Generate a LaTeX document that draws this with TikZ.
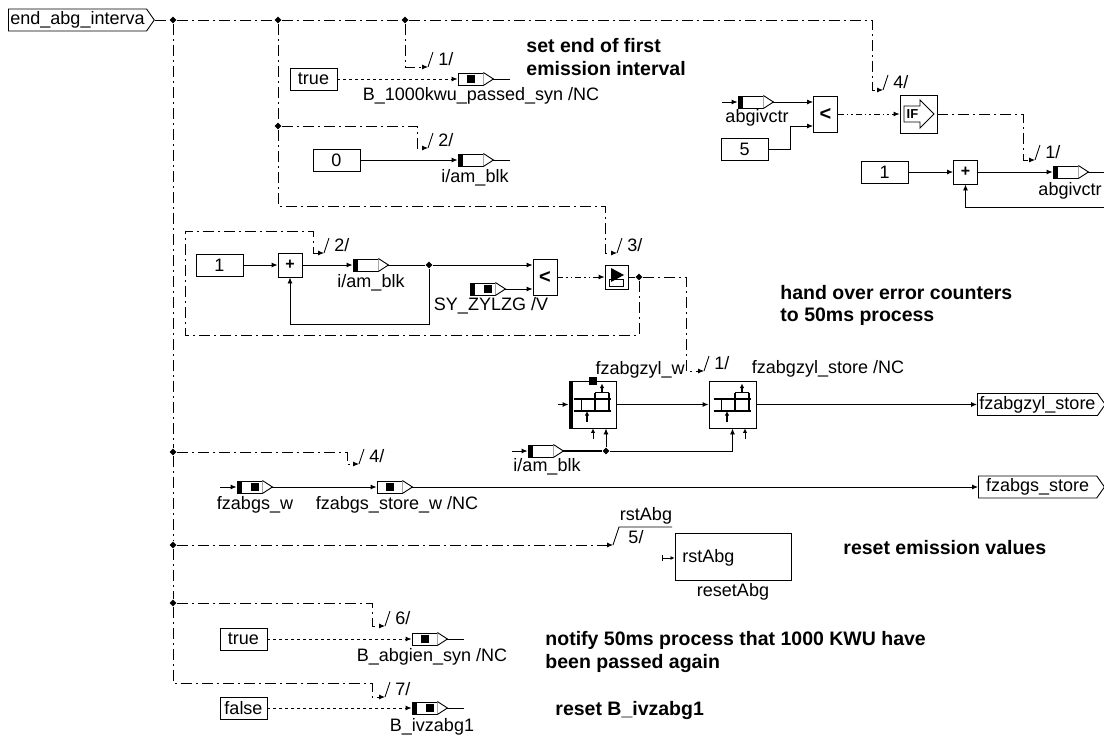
\documentclass[tikz,border=0pt]{standalone}
\usepackage{fontspec}
\setmainfont{Liberation Sans}
\usetikzlibrary{arrows.meta,shapes.geometric,shapes.symbols}
\tikzset{
  arr/.style={-{Latex[length=6pt,width=5pt]}},
  arrs/.style={-{Latex[length=4.5pt,width=4.5pt]}},
  dd/.style={dash pattern=on 11pt off 4pt on 2pt off 4pt},
  ddd/.style={dash pattern=on 6pt off 3pt on 1.5pt off 3pt on 1.5pt off 3pt},
  dotl/.style={dash pattern=on 3pt off 3pt},
  lbl/.style={font=\fontsize{18}{21}\selectfont, inner sep=0pt},
  note/.style={font=\fontsize{19.5}{23}\selectfont\bfseries, inner sep=0pt, anchor=base west},
  const/.style={draw, fill=white, minimum width=47pt, minimum height=22pt, inner sep=0pt, font=\fontsize{18}{21}\selectfont},
  addop/.style={draw, fill=white, minimum width=24pt, minimum height=24pt, inner sep=0pt, font=\fontsize{16}{18}\selectfont\bfseries},
  cmpop/.style={draw, fill=white, minimum width=24pt, minimum height=36pt, inner sep=0pt, font=\fontsize{20}{22}\selectfont\bfseries},
  var/.style={draw, fill=white, minimum width=25pt, minimum height=12pt, inner sep=0pt},
  varbar/.style={var, path picture={\fill[black] (path picture bounding box.south west) rectangle ([xshift=5pt]path picture bounding box.north west);}},
  varsq/.style={var, path picture={\fill[black] ([xshift=-3.5pt,yshift=-4pt]path picture bounding box.center) rectangle ([xshift=4pt,yshift=4pt]path picture bounding box.center);}},
  varbarsq/.style={var, path picture={\fill[black] (path picture bounding box.south west) rectangle ([xshift=5pt]path picture bounding box.north west); \fill[black] ([xshift=1pt,yshift=-4pt]path picture bounding box.center) rectangle ([xshift=9pt,yshift=4pt]path picture bounding box.center);}},
  port/.style={draw, fill=white, signal, signal to=east, signal pointer angle=110, minimum height=22pt, inner xsep=2pt, inner ysep=0pt, font=\fontsize{18}{21}\selectfont},
  jdot/.style={diamond, fill, inner sep=0pt, minimum size=7pt},
  storeblk/.style={draw, fill=white, minimum width=47pt, minimum height=47pt, inner sep=0pt},
  sqblk/.style={draw, fill=white, minimum width=37pt, minimum height=38pt, inner sep=0pt},
  swblk/.style={draw, fill=white, minimum width=23pt, minimum height=24pt, inner sep=0pt},
}
\newcommand\vtri[1]{\draw[fill=white] (#1.north east) -- ([xshift=10pt]#1.east) coordinate (#1-t) -- (#1.south east);}
\newcommand\tickmark[3]{\draw (#1) -- ++(5,-15); \node[lbl, anchor=west] (#3) at ([xshift=10pt,yshift=8pt]#1) {#2};}
\newcommand\storeicon[2]{\begin{scope}[shift={(#1,#2)}, line width=1.2pt]
  \draw (-19,-5.5) -- (18,-5.5) (-19,6.5) -- (18,6.5);
  \draw (-11,-5.5) -- (-11,6.5) (2.5,-12) -- (2.5,6.5) (16.5,-12) -- (16.5,6.5) (2.5,-12) -- (16.5,-12);
  \draw[arrs] (9.5,-12) -- (9.5,-21);
  \draw[arrs] (-5.5,17) -- (-5.5,6.5);
\end{scope}}
\begin{document}
\begin{tikzpicture}[x=1pt,y=-1pt,line width=0.9pt]
\useasboundingbox (0,0) rectangle (1104,736);
\fill[white] (0,0) rectangle (1104,736);

% ---------- input port and trigger tree ----------
\node[port, anchor=west] (pin) at (8,20) {end\_abg\_interva};
\node[jdot] (j0) at (173,20) {};
\node[jdot] (jA) at (278,20) {};
\node[jdot] (jB) at (405,20) {};
\node[jdot] (jA2) at (278,126) {};
\node[jdot] (jL1) at (173,452) {};
\node[jdot] (jL2) at (173,545) {};
\node[jdot] (jL3) at (173,603) {};
\node[jdot] (jS) at (639,277) {};

\coordinate (tk1) at (428,67);
\coordinate (tk2) at (428,148);
\coordinate (tk3) at (617,253);
\coordinate (tk2b) at (324,253);
\coordinate (tk4) at (883,90);
\coordinate (tk1r) at (1035,160);
\coordinate (tk1m) at (704,371);
\coordinate (tk4l) at (359,464);
\coordinate (tk5) at (613,545);
\coordinate (tk6) at (385,626);
\coordinate (tk7) at (385,697);

\draw[dd] (pin.east) -- (j0) -- (jA) -- (jB);
\draw[dd,arr] (jB) -- (872,20) |- (tk4);
\draw[dd,arr] (jB) |- (tk1);
\draw[dd] (jA) -- (jA2);
\draw[dd,arr] (jA2) -- (417,126) |- (tk2);
\draw[dd,arr] (jA2) -- (278,206) -- (605,206) |- (tk3);
\draw[dd] (j0) -- (jL1) -- (jL2) -- (jL3);
\draw[dd,arr] (jL1) -- (347,452) |- (tk4l);
\draw[dd,arr] (jL2) -- (tk5);
\draw[dd,arr] (jL3) -- (372,603) |- (tk6);
\draw[dd,arr] (jL3) -- (173,683) -- (372,683) |- (tk7);
\draw[dd,arr] (jS) -- (639,335) -- (185,335) -- (185,231) -- (313,231) |- (tk2b);
\draw[dd,arr] (jS) -- (686,277) |- (tk1m);

\tickmark{tk1}{1/}{n1}
\tickmark{tk2}{2/}{n2}
\tickmark{tk3}{3/}{n3}
\tickmark{tk2b}{2/}{n2b}
\tickmark{tk4}{4/}{n4}
\tickmark{tk1r}{1/}{n1r}
\tickmark{tk1m}{1/}{n1m}
\tickmark{tk4l}{4/}{n4l}
\tickmark{tk6}{6/}{n6}
\tickmark{tk7}{7/}{n7}
\draw (tk5) -- (619,527) -- (672,527);
\node[lbl] (n5) at (636,537) {5/};
\node[lbl] (n5b) at (646,516) {rstAbg};

% ---------- row 1 and 2 ----------
\node[const] (ct1) at (313.5,79) {true};
\node[varsq] (s1) at (470.5,79) {};
\vtri{s1}
\draw[dotl,arr] (ct1.east) -- (s1.west);
\draw (s1-t) -- ++(17,0);
\node[lbl] (l1) at (481,96) {B\_1000kwu\_passed\_syn /NC};

\node[const] (c0) at (336.5,160) {0};
\node[varbar] (s2) at (470.5,160) {};
\vtri{s2}
\draw[arr] (c0.east) -- (s2.west);
\draw (s2-t) -- ++(17,0);
\node[lbl] (l2) at (475,178) {i/am\_blk};

% ---------- top right ----------
\node[varbar] (va) at (750.5,102) {};
\vtri{va}
\coordinate (vain) at (722,102);
\draw[arr] (vain) -- (va.west);
\node[lbl] (l3) at (757,118) {abgivctr};
\node[const] (c5) at (744.5,149) {5};
\node[cmpop] (lt1) at (825.5,114) {\textless};
\draw[arr] (va-t) -- (va-t -| lt1.west);
\draw[arr] (c5.east) -- (790,149) |- ([yshift=-12pt]lt1.west);
\node[sqblk] (ifb) at (918.5,114) {};
\draw[fill=white] (904,106) -- (920,106) -- (920,100) -- (934,114) -- (920,128) -- (920,122) -- (904,122) -- cycle;
\node[font=\fontsize{13}{14}\selectfont\bfseries, inner sep=0pt] (iftxt) at (912.5,114) {IF};
\draw[ddd,arr] (lt1.east) -- (ifb.west);
\draw[dd,arr] (ifb.east) -- (1023,114) |- (tk1r);
\node[const] (c1r) at (884.5,172) {1};
\node[addop] (ad1) at (965.5,172) {+};
\draw[arr] (c1r.east) -- (ad1.west);
\node[varbar] (vb) at (1065.5,172) {};
\vtri{vb}
\draw[arr] (ad1.east) -- (vb.west);
\draw (vb-t) -- ++(17,0);
\node[lbl] (l4) at (1070,191) {abgivctr};
\coordinate (fbr) at (1104,207);
\draw[arr] (fbr) -| (ad1.south);

% ---------- counter loop ----------
\node[const] (c1l) at (219.5,265) {1};
\node[addop] (ad2) at (290,265) {+};
\draw[arr] (c1l.east) -- (ad2.west);
\node[varbar] (vi2) at (365.5,265) {};
\vtri{vi2}
\draw[arr] (ad2.east) -- (vi2.west);
\node[lbl] (l5) at (371,283) {i/am\_blk};
\node[jdot] (jM) at (429,265) {};
\node[cmpop] (lt2) at (545,277) {\textless};
\draw (vi2-t) -- (jM);
\draw[arr] (jM) -- (jM -| lt2.west);
\draw[arr] (jM) -- (429,324) -| (ad2.south);
\node[varbarsq] (vsy) at (482.5,289) {};
\vtri{vsy}
\draw[arr] (vsy-t) -- (vsy-t -| lt2.west);
\node[lbl] (l6) at (491,306) {SY\_ZYLZG /V};
\node[swblk] (sw) at (616.5,277) {};
\draw (609,279) rectangle (623,286);
\fill (611,268) -- (624,275) -- (611,282) -- cycle;
\draw[ddd,arr] (lt2.east) -- (sw.west);
\draw[dd] (sw.east) -- (jS);

% ---------- store blocks ----------
\node[storeblk] (st1) at (592.5,404.5) {};
\fill (st1.south west) rectangle ([xshift=4pt]st1.north west);
\storeicon{592.5}{404.5}
\fill (589,377) rectangle (597,385);
\node[storeblk] (st2) at (732.5,404.5) {};
\storeicon{732.5}{404.5}
\coordinate (st1in) at (558,404.5);
\draw[arr] (st1in) -- (st1.west);
\draw[arr] (st1.east) -- (st2.west);
\node[port, anchor=west, minimum width=126pt] (pz) at (977,404.5) {fzabgzyl\_store};
\draw[arr] (st2.east) -- (pz.west);
\node[lbl, anchor=east] (l7) at (685,370) {fzabgzyl\_w};
\node[lbl] (l8) at (828,369) {fzabgzyl\_store /NC};

\node[varbar] (vi3) at (540.5,451) {};
\vtri{vi3}
\coordinate (vi3in) at (512,451);
\draw[arr] (vi3in) -- (vi3.west);
\node[jdot] (jD) at (606,451) {};
\draw[line width=1.8pt] (vi3-t) -- (jD);
\draw[arr] (jD) -- (jD |- st1.south);
\draw[arr] (jD) -| (st2.south);
\coordinate (sb1) at (593,439);
\coordinate (sb2) at (745,439);
\draw[arrs] (sb1) -- (sb1 |- st1.south);
\draw[arrs] (sb2) -- (sb2 |- st2.south);
\node[lbl] (l9) at (547,467) {i/am\_blk};

% ---------- fzabgs row ----------
\node[varbarsq] (vfw) at (249.5,487) {};
\vtri{vfw}
\coordinate (vfwin) at (220,487);
\draw[arr] (vfwin) -- (vfw.west);
\node[varsq] (vfs) at (389.5,487) {};
\vtri{vfs}
\draw[arr] (vfw-t) -- (vfs.west);
\node[port, anchor=west, minimum width=126pt] (ps) at (978,487) {fzabgs\_store};
\draw[arr] (vfs-t) -- (ps.west);
\node[lbl] (l10) at (255,505) {fzabgs\_w};
\node[lbl] (l11) at (397,505) {fzabgs\_store\_w /NC};

% ---------- reset block ----------
\node[draw, fill=white, minimum width=116pt, minimum height=47pt, inner sep=0pt] (rst) at (733,556.5) {};
\node[lbl, anchor=west] (rsttxt) at (682,558) {rstAbg};
\coordinate (rin) at (662,558);
\draw[{Bar[width=6pt]}-{Latex[length=4pt,width=4pt]}] (rin) -- (rin -| rst.west);
\node[lbl] (l12) at (733,592) {resetAbg};

% ---------- bottom rows ----------
\node[const] (ct2) at (243.5,639) {true};
\node[varsq] (vab) at (424.5,639) {};
\vtri{vab}
\draw[dotl,arr] (ct2.east) -- (vab.west);
\draw (vab-t) -- ++(17,0);
\node[lbl] (l13) at (432,657) {B\_abgien\_syn /NC};
\node[const] (cf) at (243.5,708) {false};
\node[varbarsq] (viv) at (424.5,708) {};
\vtri{viv}
\draw[dotl,arr] (cf.east) -- (viv.west);
\draw (viv-t) -- ++(17,0);
\node[lbl] (l14) at (432,727) {B\_ivzabg1};

% ---------- comments ----------
\node[note] (m1) at (526,52) {set end of first};
\node[note] (m2) at (526,75) {emission interval};
\node[note] (m3) at (780,299) {hand over error counters};
\node[note] (m4) at (780,321) {to 50ms process};
\node[note] (m5) at (843,554) {reset emission values};
\node[note] (m6) at (545,645) {notify 50ms process that 1000 KWU have};
\node[note] (m7) at (545,668) {been passed again};
\node[note] (m8) at (555,715) {reset B\_ivzabg1};
\end{tikzpicture}
\end{document}
